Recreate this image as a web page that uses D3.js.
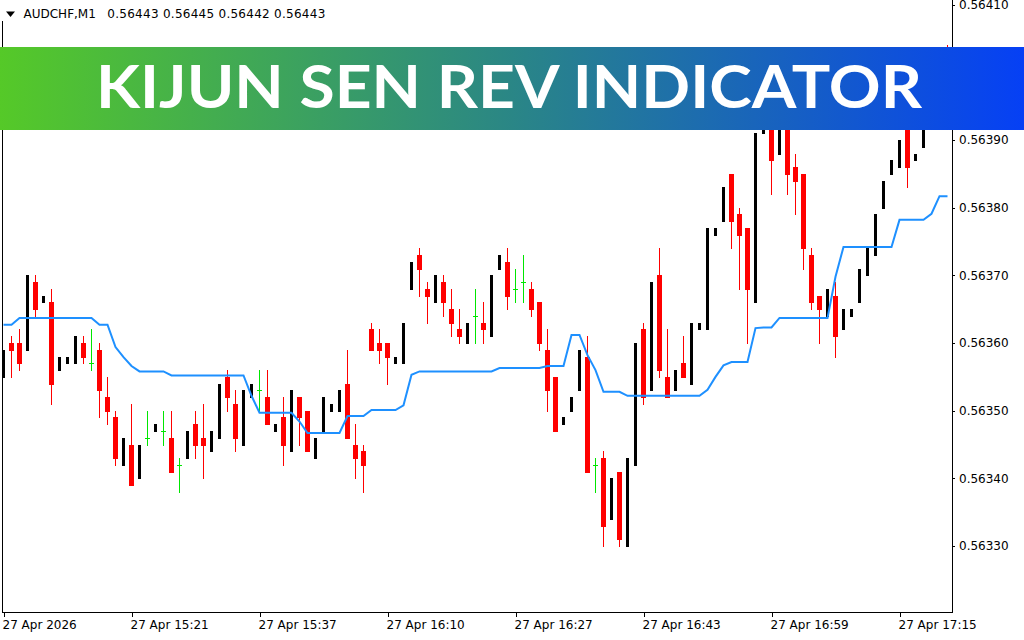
<!DOCTYPE html>
<html><head><meta charset="utf-8">
<script src="https://cdn.jsdelivr.net/npm/d3@7"></script>
<style>html,body{margin:0;padding:0;background:#fff;overflow:hidden}</style>
</head><body>
<svg id="c" width="1024" height="640"></svg>
<script>
// ---------------- data ----------------
const symbolTitle = "AUDCHF,M1";
const headerQuote = ["0.56443", "0.56445", "0.56442", "0.56443"];
const bannerText = "KIJUN SEN REV INDICATOR";

const opens = [
0.56355,0.56360,0.56360,0.56359,0.56369,0.56366,0.56366,0.56356,0.56357,0.56357,
0.56360,0.56357,0.56359,0.56352,0.56349,0.56342,0.56345,0.56340,0.56346,0.56347,
0.56347,0.56346,0.56342,0.56343,0.56348,0.56346,0.56344,0.56346,0.56355,0.56351,
0.56345,0.56352,0.56353,0.56352,0.56347,0.56349,0.56344,0.56352,0.56350,0.56343,
0.56347,0.56350,0.56350,0.56354,0.56345,0.56344,0.56362,0.56360,0.56360,0.56357,
0.56357,0.56368,0.56373,0.56368,0.56366,0.56369,0.56365,0.56362,0.56360,0.56364,
0.56363,0.56361,0.56371,0.56372,0.56368,0.56369,0.56368,0.56366,0.56359,0.56355,
0.56348,0.56350,0.56353,0.56358,0.56342,0.56343,0.56334,0.56341,0.56330,0.56342,
0.56362,0.56353,0.56370,0.56355,0.56353,0.56357,0.56354,0.56362,0.56362,0.56376,
0.56378,0.56385,0.56379,0.56377,0.56366,0.56391,0.56394,0.56388,0.56393,0.56386,
0.56385,0.56373,0.56367,0.56364,0.56367,0.56362,0.56364,0.56366,0.56370,0.56373,
0.56380,0.56385,0.56386,0.56392,0.56387,0.56389,0.56393,0.56396,0.56403];

const highs = [
0.56359,0.56361,0.56362,0.56370,0.56370,0.56367,0.56368,0.56358,0.56358,0.56361,
0.56361,0.56362,0.56360,0.56355,0.56350,0.56346,0.56351,0.56345,0.56350,0.56348,
0.56350,0.56350,0.56343,0.56347,0.56350,0.56351,0.56347,0.56354,0.56356,0.56353,
0.56353,0.56354,0.56356,0.56356,0.56348,0.56352,0.56353,0.56352,0.56350,0.56346,
0.56352,0.56351,0.56353,0.56359,0.56348,0.56345,0.56363,0.56362,0.56360,0.56358,
0.56363,0.56372,0.56374,0.56369,0.56370,0.56370,0.56368,0.56365,0.56363,0.56368,
0.56366,0.56370,0.56373,0.56374,0.56371,0.56373,0.56369,0.56366,0.56362,0.56355,
0.56349,0.56352,0.56359,0.56361,0.56343,0.56344,0.56340,0.56341,0.56343,0.56360,
0.56363,0.56369,0.56374,0.56362,0.56356,0.56361,0.56363,0.56363,0.56377,0.56377,
0.56383,0.56385,0.56380,0.56377,0.56391,0.56396,0.56395,0.56393,0.56394,0.56388,
0.56385,0.56374,0.56367,0.56368,0.56369,0.56365,0.56365,0.56371,0.56374,0.56379,
0.56384,0.56387,0.56390,0.56392,0.56388,0.56393,0.56396,0.56399,0.56404];

const lows = [
0.56355,0.56355,0.56356,0.56359,0.56364,0.56366,0.56351,0.56356,0.56357,0.56357,
0.56357,0.56356,0.56349,0.56348,0.56342,0.56342,0.56339,0.56340,0.56345,0.56347,
0.56345,0.56341,0.56338,0.56343,0.56343,0.56340,0.56344,0.56346,0.56350,0.56344,
0.56345,0.56352,0.56350,0.56348,0.56347,0.56342,0.56344,0.56345,0.56344,0.56343,
0.56347,0.56350,0.56350,0.56346,0.56340,0.56338,0.56359,0.56357,0.56354,0.56357,
0.56357,0.56368,0.56367,0.56363,0.56366,0.56364,0.56361,0.56360,0.56360,0.56360,
0.56360,0.56361,0.56371,0.56365,0.56366,0.56366,0.56364,0.56359,0.56350,0.56347,
0.56348,0.56350,0.56353,0.56341,0.56338,0.56330,0.56334,0.56330,0.56330,0.56342,
0.56351,0.56353,0.56355,0.56352,0.56353,0.56355,0.56354,0.56362,0.56362,0.56376,
0.56378,0.56374,0.56368,0.56360,0.56366,0.56391,0.56382,0.56388,0.56382,0.56379,
0.56371,0.56365,0.56360,0.56364,0.56358,0.56362,0.56364,0.56366,0.56370,0.56373,
0.56380,0.56385,0.56386,0.56383,0.56387,0.56389,0.56393,0.56396,0.56399];

const closes = [
0.56359,0.56359,0.56357,0.56370,0.56365,0.56367,0.56354,0.56358,0.56358,0.56361,
0.56358,0.56357,0.56353,0.56350,0.56343,0.56346,0.56339,0.56345,0.56346,0.56348,
0.56347,0.56341,0.56342,0.56347,0.56345,0.56345,0.56347,0.56354,0.56352,0.56346,
0.56353,0.56354,0.56353,0.56348,0.56348,0.56345,0.56353,0.56349,0.56344,0.56346,
0.56352,0.56351,0.56353,0.56346,0.56343,0.56342,0.56359,0.56359,0.56358,0.56358,
0.56363,0.56372,0.56371,0.56367,0.56370,0.56366,0.56363,0.56361,0.56363,0.56364,
0.56362,0.56370,0.56373,0.56367,0.56368,0.56369,0.56365,0.56360,0.56353,0.56347,
0.56349,0.56352,0.56359,0.56341,0.56342,0.56333,0.56340,0.56331,0.56343,0.56360,
0.56352,0.56369,0.56356,0.56352,0.56356,0.56355,0.56363,0.56363,0.56377,0.56377,
0.56383,0.56378,0.56376,0.56368,0.56391,0.56396,0.56387,0.56393,0.56385,0.56384,
0.56374,0.56366,0.56365,0.56368,0.56361,0.56365,0.56365,0.56371,0.56374,0.56379,
0.56384,0.56387,0.56390,0.56386,0.56388,0.56393,0.56396,0.56399,0.56400];

const kijun = [
0.563627,0.563627,0.563637,0.563637,0.563637,0.563637,0.563637,0.563637,0.563637,0.563637,
0.563637,0.563637,0.563627,0.563627,0.563594,0.563579,0.563566,0.563558,0.563558,0.563558,
0.563558,0.563552,0.563552,0.563552,0.563552,0.563552,0.563552,0.563552,0.563552,0.563552,
0.563552,0.563522,0.563497,0.563497,0.563497,0.563497,0.563497,0.563484,0.563467,0.563467,
0.563467,0.563467,0.563467,0.563492,0.563492,0.563492,0.563501,0.563501,0.563501,0.563501,
0.563508,0.563553,0.563558,0.563558,0.563558,0.563558,0.563558,0.563558,0.563558,0.563558,
0.563558,0.563558,0.563563,0.563563,0.563563,0.563563,0.563563,0.563563,0.563566,0.563566,
0.563566,0.563612,0.563612,0.563582,0.563560,0.563528,0.563528,0.563528,0.563522,0.563522,
0.563522,0.563522,0.563522,0.563522,0.563522,0.563522,0.563522,0.563522,0.563531,0.563550,
0.563567,0.563572,0.563572,0.563572,0.563622,0.563623,0.563623,0.563637,0.563637,0.563637,
0.563637,0.563637,0.563637,0.563637,0.563698,0.563742,0.563742,0.563742,0.563742,0.563742,
0.563742,0.563742,0.563782,0.563782,0.563782,0.563782,0.563791,0.563817,0.563817];

const priceTicks = [0.56330,0.56340,0.56350,0.56360,0.56370,0.56380,0.56390,0.56400,0.56410];
const timeTickBars = [0,16,32,48,64,80,96,112];
const timeTickLabels = ["27 Apr 2026","27 Apr 15:21","27 Apr 15:37","27 Apr 16:10",
                        "27 Apr 16:27","27 Apr 16:43","27 Apr 16:59","27 Apr 17:15"];

// ---------------- drawing ----------------
const svg = d3.select("#c");
const FONT = "DejaVu Sans, Verdana, sans-serif";
const bars = opens.map((o,i)=>({i, o, h:highs[i], l:lows[i], c:closes[i]}));

const x = d3.scaleLinear().domain([0, opens.length-1]).range([3.5, 947.5]);
const y = d3.scaleLinear().domain([0.5632025, 0.5641069]).range([612, 0]);

const colorOf = d => d.c > d.o ? "#000000" : (d.c < d.o ? "#ff0000" : "#00e600");

svg.append("rect").attr("width",1024).attr("height",640).attr("fill","#ffffff");

const gC = svg.append("g").attr("shape-rendering","crispEdges");
// wicks
gC.selectAll("rect.wick").data(bars).join("rect").attr("class","wick")
  .attr("x", d=>x(d.i)-0.5).attr("width",1)
  .attr("y", d=>Math.round(y(d.h)))
  .attr("height", d=>Math.max(1, Math.round(y(d.l))-Math.round(y(d.h))+1))
  .attr("fill", colorOf);
// bodies
gC.selectAll("rect.body").data(bars.filter(d=>d.o!==d.c)).join("rect").attr("class","body")
  .attr("x", d=> d.c>d.o ? x(d.i)-1.5 : x(d.i)-2.5)
  .attr("width", d=> d.c>d.o ? 3 : 5)
  .attr("y", d=>Math.round(y(Math.max(d.o,d.c))))
  .attr("height", d=>Math.max(1, Math.round(y(Math.min(d.o,d.c)))-Math.round(y(Math.max(d.o,d.c)))+1))
  .attr("fill", colorOf);
// doji crosses
gC.selectAll("rect.doji").data(bars.filter(d=>d.o===d.c)).join("rect").attr("class","doji")
  .attr("x", d=>x(d.i)-2.5).attr("width",5)
  .attr("y", d=>Math.round(y(d.o))).attr("height",1)
  .attr("fill", colorOf);

// kijun line
svg.append("path").datum(kijun)
  .attr("d", d3.line().x((d,i)=>x(i)).y(d=>y(d)))
  .attr("fill","none").attr("stroke","#1e90ff").attr("stroke-width",2);

// frame
const gF = svg.append("g").attr("shape-rendering","crispEdges").attr("stroke","#000");
gF.append("line").attr("x1",2.5).attr("x2",2.5).attr("y1",21).attr("y2",612);
gF.append("line").attr("x1",2).attr("x2",952).attr("y1",612.5).attr("y2",612.5);

// right price axis
const gy = svg.append("g").attr("transform","translate(952,0)")
  .call(d3.axisRight(y).tickValues(priceTicks).tickFormat(d3.format(".5f"))
        .tickSize(3).tickPadding(4).tickSizeOuter(0));
gy.selectAll("path,line").attr("stroke","#000").attr("shape-rendering","crispEdges");
gy.select(".domain").attr("d","M0.5,0V612.5");
gy.selectAll("text").attr("font-family",FONT).attr("font-size",12).attr("fill","#000");

// bottom time axis
const gx = svg.append("g").attr("transform","translate(0,612)")
  .call(d3.axisBottom(x).tickValues(timeTickBars).tickFormat((d,k)=>timeTickLabels[k])
        .tickSize(5).tickPadding(3).tickSizeOuter(0));
gx.select(".domain").remove();
gx.selectAll("line").attr("stroke","#000").attr("shape-rendering","crispEdges");
gx.selectAll("text").attr("font-family",FONT).attr("font-size",12).attr("fill","#000")
  .attr("text-anchor","start").attr("x",-1.5);

// header
svg.append("path").attr("d","M6,11.5L15,11.5L10.5,17Z").attr("fill","#000");
svg.append("text").attr("x",23.5).attr("y",18.3).attr("font-family",FONT).attr("font-size",12)
  .attr("fill","#000").text(symbolTitle);
svg.append("text").attr("x",107.3).attr("y",18.3).attr("font-family",FONT).attr("font-size",12)
  .attr("fill","#000").attr("textLength",218).attr("lengthAdjust","spacing")
  .text(headerQuote.join(" "));

// banner
const defs = svg.append("defs");
const grad = defs.append("linearGradient").attr("id","bg").attr("x1","0").attr("x2","1").attr("y1","0").attr("y2","0");
grad.append("stop").attr("offset","0%").attr("stop-color","#55c928");
grad.append("stop").attr("offset","50%").attr("stop-color","#2a8686");
grad.append("stop").attr("offset","100%").attr("stop-color","#0640f5");
svg.append("rect").attr("x",0).attr("y",47).attr("width",1024).attr("height",83).attr("fill","url(#bg)");
svg.append("text").attr("x",96).attr("y",108).attr("font-family","Lato, Open Sans, sans-serif")
  .attr("font-weight",700).attr("font-size",60).attr("fill","#fff")
  .attr("textLength",826).attr("lengthAdjust","spacingAndGlyphs").text(bannerText);
</script>
</body></html>
